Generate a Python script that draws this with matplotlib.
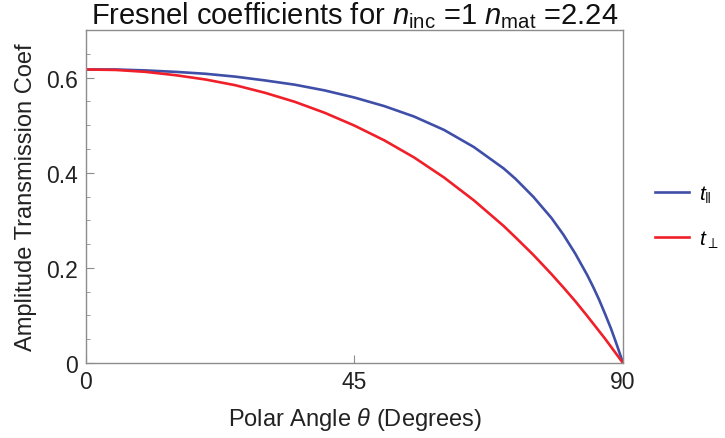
import numpy as np
import matplotlib.pyplot as plt
from matplotlib.ticker import MultipleLocator

# values
angle_deg = [0, 5, 10, 15, 20, 25, 30, 35, 40, 45, 50, 55, 60, 65, 70, 72, 75, 78,
             80, 82, 84, 85, 86, 87, 88, 89, 90]
t_par = [0.617, 0.617, 0.615, 0.612, 0.608, 0.602, 0.594, 0.585, 0.573, 0.558,
         0.540, 0.518, 0.490, 0.454, 0.409, 0.387, 0.349, 0.305,
         0.270, 0.230, 0.185, 0.160, 0.133, 0.103, 0.072, 0.037, 0.0]
t_perp = [0.617, 0.616, 0.612, 0.605, 0.596, 0.584, 0.568, 0.549, 0.526, 0.499,
          0.468, 0.432, 0.390, 0.342, 0.288, 0.264, 0.227, 0.187,
          0.159, 0.130, 0.099, 0.083, 0.067, 0.051, 0.034, 0.017, 0.0]
x_ticks = [0, 45, 90]
y_ticks = [0, 0.2, 0.4, 0.6]
y_labels = ['0', '0.2', '0.4', '0.6']

plt.rcParams['font.family'] = ['Liberation Sans', 'DejaVu Sans']
plt.rcParams['mathtext.fontset'] = 'custom'
plt.rcParams['mathtext.it'] = 'Liberation Sans:italic'
plt.rcParams['mathtext.rm'] = 'Liberation Sans'

fig = plt.figure(figsize=(7.25, 4.39), dpi=100)
ax = fig.add_axes([0.1186, 0.1708, 0.7407, 0.7586])

blue = '#3f4fa8'
red = '#f0202a'
ax.plot(angle_deg, t_par, color=blue, lw=1.9, label=r'$t_{\Vert}$')
ax.plot(angle_deg, t_perp, color=red, lw=1.9, label=r'$t_{\perp}$')

ax.set_xlim(0, 90)
ax.set_ylim(0, 0.70)
ax.set_xticks(x_ticks)
ax.set_yticks(y_ticks)
ax.set_yticklabels(y_labels)
ax.yaxis.set_minor_locator(MultipleLocator(0.05))

for s in ax.spines.values():
    s.set_color('#8c8c8c')
    s.set_linewidth(1.0)
ax.tick_params(which='both', direction='in', color='#8c8c8c', labelsize=16.5,
               labelcolor='#222222', top=False, right=False)
ax.tick_params(which='major', length=6)
ax.tick_params(which='minor', length=3)
ax.tick_params(axis='x', pad=5)
ax.tick_params(axis='y', pad=6)

ax.set_xlabel(r'Polar Angle $\theta$ (Degrees)', fontsize=17, color='#222222', labelpad=9)
ax.set_ylabel('Amplitude Transmission Coef', fontsize=17, color='#222222', labelpad=6)
ax.set_title(r'Fresnel coefficients for $n_{\mathrm{inc}}$ =1 $n_{\mathrm{mat}}$ =2.24',
             fontsize=21, color='#111111', pad=2)

ax.legend(loc='center left', bbox_to_anchor=(1.06, 0.44), frameon=False,
          fontsize=15, handlelength=1.6, labelspacing=1.15, handletextpad=0.5,
          borderpad=0, borderaxespad=0)

fig.savefig('out.png', dpi=100)
